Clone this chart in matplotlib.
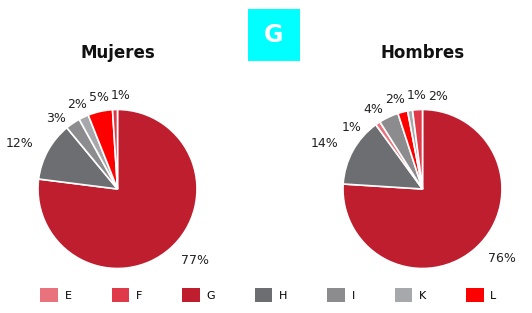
import numpy as np
import matplotlib.pyplot as plt
from matplotlib.patches import Patch, Rectangle

# legend categories and colours
categories = ["E", "F", "G", "H", "I", "K", "L"]
colors = {"E": "#e8737d", "F": "#e03a4a", "G": "#be1e2d", "H": "#6d6e71",
          "I": "#8c8c8f", "K": "#a7a8ab", "L": "#ff0000"}

# slices, clockwise from 12 o'clock
mujeres_cats = ["G", "H", "I", "K", "L", "F"]
mujeres_vals = [77, 12, 3, 2, 5, 1]
hombres_cats = ["G", "H", "E", "I", "L", "K", "F"]
hombres_vals = [76, 14, 1, 4, 2, 1, 2]

W, H = 532, 313
fig = plt.figure(figsize=(W / 100, H / 100), dpi=100)
fig.patch.set_facecolor("white")


def spread_top_labels(texts, wedges, gap=0.27, r=1.18):
    # labels of the small slices near the top get spread apart
    top = []
    for t, w in zip(texts, wedges):
        ang = np.deg2rad((w.theta1 + w.theta2) / 2)
        x, y = np.cos(ang), np.sin(ang)
        if y > 0.8:
            top.append((x * 1.2, t))
    if not top:
        return
    top.sort(key=lambda p: p[0])
    xs = [p[0] for p in top]
    new = [xs[0]]
    for x in xs[1:]:
        new.append(max(x, new[-1] + gap))
    shift = np.mean(xs) - np.mean(new)
    for (x0, t), x in zip(top, new):
        x = x + shift
        t.set_position((x, np.sqrt(max(r ** 2 - x ** 2, 0.7 ** 2))))
        t.set_ha("center")
        t.set_va("center")


def draw_pie(cx, cy, r, cats, vals, title):
    ax = fig.add_axes([(cx - r) / W, (H - cy - r) / H, 2 * r / W, 2 * r / H])
    wedges, texts = ax.pie(vals, colors=[colors[c] for c in cats],
                           startangle=90, counterclock=False,
                           labels=[f"{v}%" for v in vals], labeldistance=1.2,
                           wedgeprops=dict(edgecolor="white", linewidth=1.2),
                           textprops=dict(fontsize=9, color="#222222"))
    spread_top_labels(texts, wedges)
    ax.set_xlim(-1, 1)
    ax.set_ylim(-1, 1)
    ax.set_aspect("equal")
    fig.text(cx / W, 1 - 53 / H, title, ha="center", va="center",
             fontsize=12, fontweight="bold", color="#111111")
    return ax


draw_pie(117.5, 189, 79.5, mujeres_cats, mujeres_vals, "Mujeres")
draw_pie(422.5, 189, 79.5, hombres_cats, hombres_vals, "Hombres")

# badge
fig.patches.append(Rectangle((248 / W, 1 - 61 / H), 52 / W, 52 / H,
                             transform=fig.transFigure, facecolor="#00ffff",
                             edgecolor="none"))
fig.text(274 / W, 1 - 35 / H, "G", ha="center", va="center",
         fontsize=17, fontweight="bold", color="white")

handles = [Patch(facecolor=colors[c], edgecolor="none", label=c) for c in categories]
fig.legend(handles=handles, loc="center", ncol=7, frameon=False,
           bbox_to_anchor=(36 / W, 1 - 310 / H, 465 / W, 30 / H), mode="expand",
           fontsize=8, handlelength=1.6, handleheight=1.6, handletextpad=0.6,
           borderaxespad=0)

fig.savefig("out.png", dpi=100)
